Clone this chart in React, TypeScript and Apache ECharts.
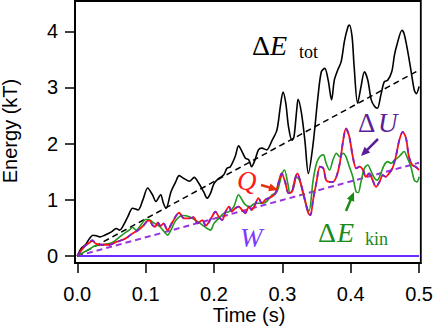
import React, { useEffect, useRef } from "react";
import * as echarts from "echarts";

// ---- data ----
const xTicks = [0, 0.1, 0.2, 0.3, 0.4, 0.5];
const yTicks = [0, 1, 2, 3, 4];

const totT = [0, 0.006, 0.012, 0.018, 0.023, 0.028, 0.033, 0.04, 0.05, 0.057, 0.062, 0.069, 0.074, 0.081, 0.089, 0.096, 0.103, 0.11, 0.115, 0.122, 0.126, 0.13, 0.137, 0.144, 0.149, 0.156, 0.164, 0.171, 0.178, 0.185, 0.19, 0.195, 0.2, 0.207, 0.214, 0.219, 0.224, 0.231, 0.236, 0.241, 0.246, 0.251, 0.255, 0.26, 0.265, 0.27, 0.277, 0.285, 0.292, 0.297, 0.301, 0.305, 0.309, 0.314, 0.317, 0.321, 0.323, 0.328, 0.333, 0.338, 0.345, 0.352, 0.357, 0.362, 0.367, 0.372, 0.376, 0.381, 0.386, 0.391, 0.396, 0.398, 0.402, 0.405, 0.41, 0.415, 0.42, 0.425, 0.43, 0.435, 0.439, 0.444, 0.449, 0.454, 0.46, 0.464, 0.468, 0.475, 0.478, 0.483, 0.488, 0.493, 0.496, 0.5];
const totV = [0, 0.14, 0.2, 0.31, 0.37, 0.36, 0.34, 0.37, 0.43, 0.49, 0.46, 0.58, 0.7, 0.85, 0.82, 1.0, 1.21, 1.09, 0.97, 1.09, 0.94, 0.85, 1.14, 1.32, 1.43, 1.38, 1.33, 1.4, 1.29, 1.14, 1.03, 1.12, 1.29, 1.38, 1.44, 1.56, 1.59, 1.77, 1.96, 1.86, 1.74, 1.71, 1.59, 1.71, 1.89, 1.92, 1.89, 2.06, 2.24, 2.66, 2.92, 2.72, 2.3, 2.06, 2.12, 2.6, 2.79, 2.54, 2.05, 1.47, 2.0, 2.83, 3.28, 3.34, 3.13, 2.78, 3.13, 3.31, 3.46, 3.84, 4.08, 4.11, 3.9, 3.37, 2.72, 3.01, 3.28, 3.13, 2.78, 2.66, 2.63, 2.86, 3.1, 3.13, 3.28, 3.58, 3.78, 4.02, 3.96, 3.67, 3.31, 2.95, 2.89, 3.02];

const qT = [0, 0.009, 0.016, 0.022, 0.027, 0.033, 0.04, 0.047, 0.057, 0.067, 0.074, 0.081, 0.089, 0.096, 0.102, 0.106, 0.11, 0.114, 0.118, 0.122, 0.126, 0.132, 0.139, 0.149, 0.156, 0.164, 0.17, 0.176, 0.183, 0.188, 0.197, 0.202, 0.207, 0.212, 0.217, 0.222, 0.226, 0.231, 0.236, 0.241, 0.246, 0.251, 0.255, 0.26, 0.265, 0.27, 0.275, 0.28, 0.285, 0.29, 0.294, 0.299, 0.304, 0.309, 0.314, 0.318, 0.322, 0.327, 0.333, 0.338, 0.341, 0.345, 0.35, 0.355, 0.36, 0.364, 0.369, 0.374, 0.379, 0.384, 0.389, 0.393, 0.398, 0.403, 0.408, 0.413, 0.418, 0.422, 0.427, 0.432, 0.437, 0.442, 0.447, 0.451, 0.456, 0.461, 0.466, 0.471, 0.476, 0.481, 0.485, 0.49, 0.495, 0.5];
const qV = [0, 0.15, 0.22, 0.27, 0.22, 0.2, 0.2, 0.2, 0.25, 0.29, 0.34, 0.4, 0.46, 0.53, 0.62, 0.63, 0.55, 0.52, 0.6, 0.53, 0.58, 0.46, 0.6, 0.77, 0.67, 0.67, 0.69, 0.58, 0.64, 0.54, 0.7, 0.79, 0.7, 0.64, 0.79, 0.88, 0.79, 0.85, 0.88, 0.82, 0.76, 0.88, 0.82, 0.91, 1.03, 0.94, 1.0, 1.03, 1.06, 1.12, 1.29, 1.47, 1.32, 1.12, 1.14, 1.35, 1.47, 1.29, 1.0, 0.76, 0.73, 1.0, 1.32, 1.59, 1.56, 1.35, 1.32, 1.32, 1.41, 1.65, 2.06, 2.27, 2.12, 1.77, 1.56, 1.59, 1.53, 1.41, 1.47, 1.35, 1.23, 1.32, 1.44, 1.41, 1.47, 1.56, 1.77, 2.06, 2.21, 2.09, 1.77, 1.62, 1.59, 1.53];
const uV = [0, 0.15, 0.23, 0.28, 0.23, 0.2, 0.2, 0.2, 0.25, 0.29, 0.34, 0.4, 0.46, 0.53, 0.61, 0.62, 0.55, 0.52, 0.59, 0.53, 0.58, 0.47, 0.6, 0.77, 0.67, 0.67, 0.69, 0.58, 0.64, 0.53, 0.7, 0.79, 0.7, 0.64, 0.79, 0.88, 0.79, 0.85, 0.88, 0.82, 0.77, 0.88, 0.82, 0.91, 1.03, 0.94, 1.0, 1.03, 1.06, 1.12, 1.29, 1.47, 1.32, 1.12, 1.14, 1.35, 1.47, 1.29, 1.0, 0.76, 0.73, 1.0, 1.32, 1.59, 1.56, 1.35, 1.32, 1.32, 1.41, 1.65, 2.06, 2.27, 2.12, 1.77, 1.56, 1.59, 1.53, 1.41, 1.47, 1.35, 1.23, 1.32, 1.44, 1.41, 1.47, 1.56, 1.77, 2.06, 2.21, 2.09, 1.77, 1.62, 1.59, 1.53];

const kinT = [0, 0.01, 0.02, 0.026, 0.033, 0.04, 0.047, 0.055, 0.064, 0.072, 0.076, 0.081, 0.086, 0.093, 0.1, 0.106, 0.113, 0.12, 0.126, 0.132, 0.137, 0.144, 0.154, 0.164, 0.174, 0.183, 0.19, 0.195, 0.2, 0.207, 0.214, 0.222, 0.229, 0.236, 0.241, 0.246, 0.253, 0.26, 0.268, 0.277, 0.285, 0.292, 0.299, 0.303, 0.308, 0.311, 0.316, 0.321, 0.326, 0.33, 0.335, 0.339, 0.345, 0.35, 0.355, 0.36, 0.364, 0.369, 0.374, 0.379, 0.384, 0.389, 0.393, 0.398, 0.403, 0.408, 0.411, 0.415, 0.42, 0.425, 0.43, 0.435, 0.439, 0.444, 0.449, 0.454, 0.459, 0.464, 0.468, 0.473, 0.478, 0.483, 0.488, 0.493, 0.497, 0.5];
const kinV = [0, 0.07, 0.14, 0.18, 0.19, 0.21, 0.22, 0.27, 0.36, 0.43, 0.46, 0.51, 0.46, 0.55, 0.65, 0.64, 0.58, 0.53, 0.45, 0.37, 0.46, 0.63, 0.72, 0.7, 0.63, 0.55, 0.49, 0.46, 0.58, 0.67, 0.76, 0.79, 0.88, 1.09, 1.0, 0.91, 0.88, 0.94, 0.94, 0.97, 1.09, 1.14, 1.44, 1.53, 1.29, 1.12, 1.2, 1.41, 1.32, 1.12, 0.9, 0.8, 1.35, 1.65, 1.77, 1.8, 1.65, 1.53, 1.71, 1.83, 1.77, 1.83, 1.77, 1.59, 1.41, 1.14, 1.13, 1.32, 1.56, 1.62, 1.5, 1.38, 1.35, 1.47, 1.62, 1.68, 1.65, 1.71, 1.74, 1.8, 1.86, 1.74, 1.59, 1.35, 1.32, 1.41];

const fitT = [0, 0.5];
const totFitV = [0, 3.31];
const uFitV = [0, 1.66];
const wT = [0, 0.5];
const wV = [0, 0];

const zip = (t: number[], v: number[]) => t.map((x, i) => [x, v[i]]);

const SERIF = '"Liberation Serif", "DejaVu Serif", serif';
const SANS = '"Liberation Sans", Arial, sans-serif';

function glyph(text: string, x: number, y: number, size: number, color: string, italic = false) {
  return {
    type: "text",
    x,
    y,
    silent: true,
    style: {
      text,
      fontSize: size,
      fontFamily: SERIF,
      fontStyle: italic ? "italic" : "normal",
      fill: color,
      align: "left",
      verticalAlign: "middle",
    },
  };
}

function arrow(x1: number, y1: number, x2: number, y2: number, color: string) {
  const dx = x2 - x1;
  const dy = y2 - y1;
  const len = Math.sqrt(dx * dx + dy * dy);
  const ux = dx / len;
  const uy = dy / len;
  const nx = -uy;
  const ny = ux;
  const L = 9;
  const W = 8;
  const bx = x2 - ux * L;
  const by = y2 - uy * L;
  return [
    {
      type: "line",
      silent: true,
      shape: { x1, y1, x2: bx + ux * 1, y2: by + uy * 1 },
      style: { stroke: color, lineWidth: 2.5 },
    },
    {
      type: "polygon",
      silent: true,
      shape: {
        points: [
          [x2, y2],
          [bx + (nx * W) / 2, by + (ny * W) / 2],
          [bx - (nx * W) / 2, by - (ny * W) / 2],
        ],
      },
      style: { fill: color },
    },
  ];
}

export default function App() {
  const ref = useRef<HTMLDivElement>(null);
  useEffect(() => {
    if (!ref.current) return;
    const chart = echarts.init(ref.current, null, { renderer: "svg" });
    const axisCommon = {
      type: "value",
      splitLine: { show: false },
      axisLine: { show: true, onZero: false, lineStyle: { color: "#000", width: 1.8 } },
    };
    const lineBase = { type: "line", showSymbol: false, symbol: "none", silent: true, animation: false };
    const option = {
      animation: false,
      grid: {
        left: 75,
        right: 13,
        top: 1,
        bottom: 68,
        show: true,
        borderColor: "#000",
        borderWidth: 1.8,
        backgroundColor: "transparent",
      },
      xAxis: {
        ...axisCommon,
        min: -0.0033,
        max: 0.5025,
        axisTick: { show: true, customValues: xTicks, length: 10, lineStyle: { color: "#000", width: 1.5 } },
        axisLabel: {
          customValues: xTicks,
          formatter: (v: number) => v.toFixed(1),
          margin: 21,
          fontSize: 20,
          fontFamily: SANS,
          color: "#000",
        },
      },
      yAxis: {
        ...axisCommon,
        min: -0.125,
        max: 4.54,
        axisTick: { show: true, customValues: yTicks, length: 10, lineStyle: { color: "#000", width: 1.5 } },
        axisLabel: {
          customValues: yTicks,
          formatter: (v: number) => String(v),
          margin: 17,
          fontSize: 20,
          fontFamily: SANS,
          color: "#000",
        },
      },
      series: [
        { ...lineBase, name: "W", data: zip(wT, wV), lineStyle: { color: "#6a2cff", width: 2.2 }, z: 2 },
        { ...lineBase, name: "fitU", data: zip(fitT, uFitV), lineStyle: { color: "#9933dd", width: 2, type: [6, 4] }, z: 2 },
        { ...lineBase, name: "fitTot", data: zip(fitT, totFitV), lineStyle: { color: "#000", width: 1.5, type: [6, 4] }, z: 2 },
        { ...lineBase, name: "Etot", data: zip(totT, totV), smooth: 0.3, lineStyle: { color: "#000", width: 1.6 }, z: 3 },
        { ...lineBase, name: "Ekin", data: zip(kinT, kinV), smooth: 0.3, lineStyle: { color: "#1f9a1f", width: 1.6 }, z: 4 },
        { ...lineBase, name: "Q", data: zip(qT, qV), smooth: 0.3, lineStyle: { color: "#ff1010", width: 1.8 }, z: 5 },
        { ...lineBase, name: "dU", data: zip(qT, uV), smooth: 0.3, lineStyle: { color: "#7a22d6", width: 1.8, type: [5, 5] }, z: 6 },
      ],
      graphic: [
        glyph("Δ", 252, 45, 28, "#000"),
        glyph("E", 270, 45, 28, "#000", true),
        glyph("tot", 299, 52, 18, "#000"),
        glyph("Δ", 358, 123, 27, "#5a1e96"),
        glyph("U", 378, 123, 27, "#5a1e96", true),
        glyph("Q", 237, 181, 27, "#ff1a1a", true),
        glyph("W", 240, 238, 27, "#7a3cff", true),
        glyph("Δ", 318, 232, 28, "#1a8a1a"),
        glyph("E", 337, 232, 28, "#1a8a1a", true),
        glyph("kin", 365, 239, 18, "#1a8a1a"),
        ...arrow(261, 185, 278, 190, "#e63312"),
        ...arrow(378, 139, 361, 156, "#5a1e96"),
        ...arrow(346, 211, 354, 192, "#1a8a1a"),
        {
          type: "text",
          x: 249,
          y: 315,
          silent: true,
          style: { text: "Time (s)", fontSize: 20, fontFamily: SANS, fill: "#000", align: "center", verticalAlign: "middle" },
        },
        {
          type: "text",
          x: 10,
          y: 131,
          rotation: Math.PI / 2,
          silent: true,
          style: { text: "Energy (kT)", fontSize: 20, fontFamily: SANS, fill: "#000", align: "center", verticalAlign: "middle" },
        },
      ],
    };
    chart.setOption(option as any);
    return () => chart.dispose();
  }, []);
  return <div ref={ref} style={{ position: "absolute", left: 0, top: 0, width: 436, height: 331 }} />;
}
